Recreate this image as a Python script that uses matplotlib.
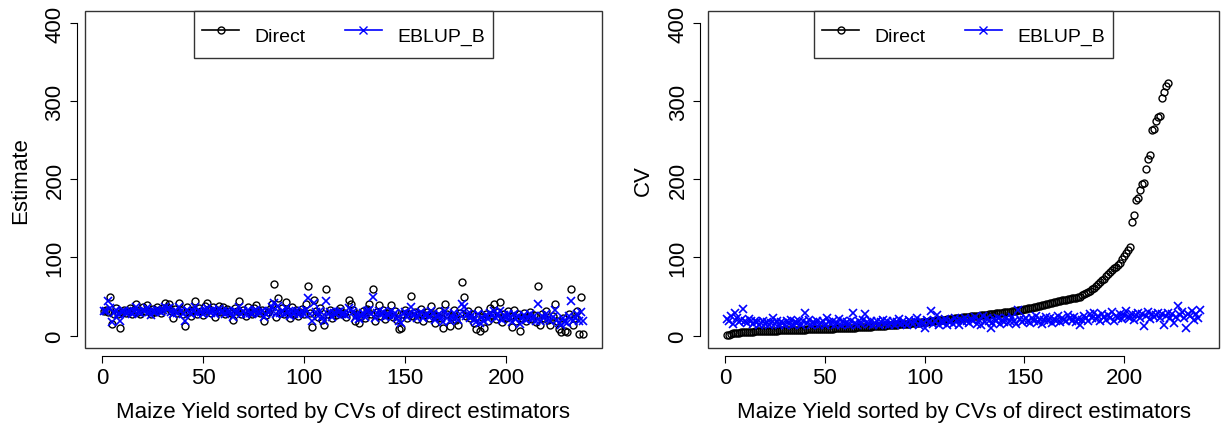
import numpy as np
import matplotlib
matplotlib.use("Agg")
import matplotlib.pyplot as plt
from matplotlib.lines import Line2D
from matplotlib.patches import Rectangle

plt.rcParams['font.family'] = ['Liberation Sans', 'DejaVu Sans']

# areas 1..238, sorted by CV of the direct estimator
est_direct = [
    31, 33, 30, 49, 15, 28, 35, 27, 10, 30, 33, 29, 31, 35, 27, 33, 41, 30, 28, 36,
    32, 39, 31, 27, 34, 30, 36, 33, 29, 35, 42, 37, 40, 31, 23, 34, 29, 42, 33, 27,
    12, 36, 30, 25, 33, 44, 28, 35, 31, 26, 38, 42, 34, 29, 37, 24, 33, 38, 30, 36,
    27, 34, 31, 29, 20, 35, 32, 44, 28, 33, 25, 37, 30, 27, 35, 39, 31, 29, 33, 18,
    26, 30, 34, 41, 66, 24, 48, 29, 35, 27, 43, 31, 22, 36, 28, 33, 25, 30, 34, 27,
    40, 63, 29, 11, 46, 31, 24, 35, 20, 13, 60, 28, 33, 22, 30, 26, 31, 35, 27, 29,
    24, 46, 40, 33, 19, 28, 16, 25, 31, 22, 34, 41, 27, 60, 18, 30, 39, 25, 33, 21,
    29, 26, 39, 24, 31, 20, 8, 9, 27, 33, 22, 28, 51, 25, 30, 21, 27, 34, 19, 26,
    30, 23, 38, 28, 16, 25, 31, 22, 10, 40, 27, 12, 24, 33, 20, 14, 29, 68, 49, 25,
    31, 22, 27, 16, 8, 33, 6, 24, 10, 28, 19, 35, 26, 40, 21, 30, 43, 17, 27, 22,
    32, 25, 11, 33, 19, 27, 6, 23, 29, 18, 24, 30, 21, 26, 17, 63, 14, 28, 22, 31,
    20, 14, 25, 40, 18, 8, 4, 22, 6, 5, 27, 60, 14, 23, 31, 2, 49, 2]

est_eblup = [
    32, 31, 44, 35, 17, 29, 33, 28, 18, 30, 31, 29, 30, 32, 28, 31, 36, 30, 29, 33,
    31, 35, 30, 26, 32, 30, 33, 32, 30, 33, 36, 34, 35, 30, 27, 32, 29, 36, 31, 28,
    18, 33, 30, 27, 31, 36, 29, 32, 30, 27, 33, 35, 31, 29, 33, 27, 31, 34, 30, 32,
    28, 31, 30, 29, 24, 32, 30, 37, 28, 31, 27, 33, 29, 28, 32, 33, 30, 29, 31, 24,
    27, 30, 32, 36, 42, 27, 38, 29, 32, 28, 35, 30, 25, 32, 28, 31, 27, 29, 31, 28,
    33, 48, 28, 18, 42, 30, 25, 32, 24, 19, 44, 28, 30, 24, 29, 27, 30, 31, 27, 28,
    26, 35, 33, 30, 23, 28, 21, 26, 29, 24, 31, 33, 27, 49, 22, 29, 32, 26, 30, 24,
    28, 26, 32, 25, 29, 23, 18, 16, 27, 30, 24, 27, 36, 26, 28, 23, 27, 30, 22, 26,
    28, 24, 31, 27, 20, 25, 28, 23, 17, 31, 26, 19, 24, 29, 22, 20, 27, 40, 36, 25,
    28, 23, 26, 20, 17, 28, 16, 24, 18, 26, 21, 29, 25, 31, 22, 27, 31, 20, 26, 22,
    28, 24, 17, 28, 21, 25, 15, 23, 26, 20, 23, 27, 21, 25, 19, 41, 18, 25, 22, 27,
    21, 18, 24, 33, 20, 16, 14, 22, 17, 16, 25, 44, 19, 22, 28, 18, 30, 18]

# direct CVs above 400 fall outside the plot (areas 223..238)
cv_direct = [
    0.5, 1.0, 2.0, 2.6, 3.0, 3.3, 3.6, 3.9, 4.1, 4.3, 4.5, 4.7, 4.9, 5.0, 5.2, 5.3, 5.5, 5.6, 5.7, 5.8,
    5.9, 6.0, 6.1, 6.2, 6.3, 6.4, 6.5, 6.6, 6.7, 6.8, 6.9, 7.0, 7.0, 7.1, 7.2, 7.3, 7.4, 7.5, 7.5, 7.6,
    7.7, 7.8, 7.9, 8.0, 8.0, 8.1, 8.2, 8.3, 8.4, 8.5, 8.6, 8.7, 8.8, 8.9, 9.0, 9.1, 9.2, 9.3, 9.4, 9.5,
    9.6, 9.8, 9.9, 10.0, 10.2, 10.3, 10.5, 10.6, 10.8, 11.0, 11.1, 11.3, 11.5, 11.6, 11.8, 12.0, 12.2, 12.4, 12.6, 12.8,
    13.0, 13.2, 13.4, 13.6, 13.8, 14.0, 14.2, 14.4, 14.6, 14.8, 15.0, 15.3, 15.5, 15.8, 16.0, 16.3, 16.6, 16.9, 17.2, 17.5,
    17.8, 18.1, 18.4, 18.7, 19.0, 19.3, 19.6, 19.9, 20.2, 20.5, 20.8, 21.1, 21.4, 21.7, 22.0, 22.3, 22.6, 22.9, 23.2, 23.5,
    23.8, 24.1, 24.4, 24.7, 25.0, 25.3, 25.6, 25.9, 26.2, 26.5, 26.8, 27.1, 27.4, 27.7, 28.0, 28.3, 28.6, 28.9, 29.2, 29.5,
    29.8, 30.1, 30.5, 30.9, 31.3, 31.7, 32.1, 32.6, 33.1, 33.6, 34.1, 34.7, 35.3, 35.9, 36.5, 37.1, 37.7, 38.3, 38.9, 39.5,
    40.1, 40.7, 41.3, 41.9, 42.5, 43.1, 43.7, 44.3, 44.9, 45.5, 46.0, 46.5, 47.0, 47.5, 48.0, 48.6, 49.2, 50.0, 51.5, 53.0,
    54.5, 56.0, 57.5, 59.0, 61.0, 63.5, 66.0, 69.0, 71.0, 73.0, 76.0, 79.0, 82.0, 84.0, 86.0, 88.0, 91.0, 93.0, 98.0, 102.0,
    106, 110, 113, 146, 154, 174, 176, 186, 194, 196, 214, 226, 232, 263, 265, 275, 280, 282, 305, 312,
    320, 324] + [np.nan] * 16

cv_eblup = [
    21, 18, 25, 15, 29, 22, 17, 20, 34, 19, 16, 21, 18, 15, 19, 17, 14, 16, 18, 15,
    17, 14, 16, 22, 15, 18, 13, 17, 16, 14, 18, 15, 20, 13, 17, 16, 19, 14, 18, 29,
    16, 20, 14, 17, 15, 19, 13, 16, 18, 14, 22, 17, 15, 19, 13, 16, 21, 14, 18, 15,
    17, 13, 19, 29, 16, 14, 18, 15, 20, 28, 17, 15, 19, 14, 16, 18, 13, 17, 20, 15,
    18, 14, 16, 19, 13, 17, 21, 15, 18, 16, 14, 20, 17, 15, 19, 22, 14, 18, 16, 10,
    20, 17, 31, 15, 19, 26, 14, 18, 16, 21, 13, 17, 19, 15, 22, 18, 14, 20, 17, 23,
    19, 16, 21, 18, 24, 15, 20, 14, 25, 17, 22, 19, 10, 16, 21, 18, 23, 15, 20, 17,
    22, 16, 19, 24, 18, 15, 33, 21, 17, 20, 23, 18, 16, 22, 19, 25, 17, 21, 15, 20,
    24, 18, 22, 16, 21, 19, 25, 17, 23, 20, 18, 26, 22, 19, 24, 17, 21, 14, 20, 25,
    22, 19, 27, 23, 29, 21, 25, 18, 28, 24, 20, 26, 22, 30, 19, 25, 23, 27, 21, 26,
    31, 24, 22, 28, 20, 26, 29, 23, 27, 12, 25, 30, 21, 28, 24, 26, 29, 22, 27, 14,
    25, 29, 23, 27, 16, 24, 38, 26, 30, 22, 10, 28, 25, 31, 20, 27, 23, 33]

area = np.arange(1, len(est_direct) + 1)
xlabel = "Maize Yield sorted by CVs of direct estimators"


def r_style(ax, ylabel):
    n = len(area)
    pad = 0.04 * (n - 1)
    ax.set_xlim(1 - pad, n + pad)
    ax.set_ylim(-16, 416)
    for s in ["top", "right"]:
        ax.spines[s].set_visible(False)
    ax.spines["left"].set_position(("outward", 6))
    ax.spines["bottom"].set_position(("outward", 6))
    ax.spines["left"].set_bounds(0, 400)
    ax.spines["bottom"].set_bounds(0, 200)
    ax.add_patch(Rectangle((0, 0), 1, 1, transform=ax.transAxes, fill=False,
                           edgecolor="#333333", lw=1, clip_on=False))
    ax.set_xticks([0, 50, 100, 150, 200])
    ax.set_yticks([0, 100, 200, 300, 400])
    ax.tick_params(direction="out", length=5, width=0.8, labelsize=16, pad=3)
    for t in ax.get_yticklabels():
        t.set_rotation(90)
        t.set_va("center")
    ax.set_xlabel(xlabel, fontsize=16, labelpad=9)
    ax.set_ylabel(ylabel, fontsize=16, labelpad=10)
    handles = [
        Line2D([], [], color="black", marker="o", mfc="none", ms=5, lw=1.2),
        Line2D([], [], color="blue", marker="x", ms=6, lw=1.2),
    ]
    leg = ax.legend(handles, ["Direct", "EBLUP_B"], loc="upper center",
                    bbox_to_anchor=(0.5, 1.0), ncol=2, fontsize=14,
                    fancybox=False, framealpha=1, edgecolor="#333333",
                    borderaxespad=0, handlelength=1.9, handleheight=2.1,
                    columnspacing=2.0, borderpad=0.4, handletextpad=0.8)
    leg.get_frame().set_linewidth(1)


fig = plt.figure(figsize=(12.21, 4.27), dpi=100)
ax1 = fig.add_axes([0.0696, 0.1827, 0.4234, 0.7892])
ax2 = fig.add_axes([0.5799, 0.1827, 0.4185, 0.7892])

ax1.plot(area, est_direct, "o", mfc="none", mec="black", ms=5, mew=1)
ax1.plot(area, est_eblup, "x", color="blue", ms=6, mew=1.2)
r_style(ax1, "Estimate")

ax2.plot(area, cv_direct, "o", mfc="none", mec="black", ms=5, mew=1)
ax2.plot(area, cv_eblup, "x", color="blue", ms=6, mew=1.2)
r_style(ax2, "CV")

fig.savefig("out.png", dpi=100)
